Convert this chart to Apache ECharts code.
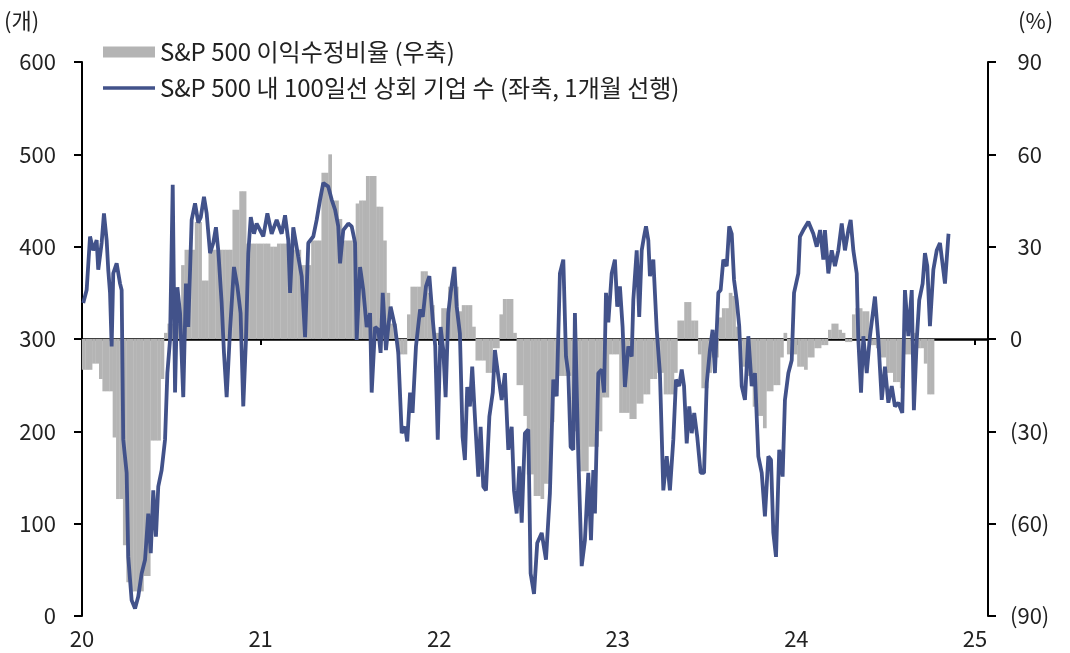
<!DOCTYPE html>
<html>
<head>
<meta charset="utf-8">
<script src="https://cdn.jsdelivr.net/npm/echarts@6/dist/echarts.min.js"></script>
<style>
  html, body { margin: 0; padding: 0; background: #fff; }
  #chart { width: 1070px; height: 653px; }
</style>
</head>
<body>
<div id="chart"></div>
<script>
// x축: 연도(20 = 2020), 소수는 연중 위치
const yearTicks = [20, 21, 22, 23, 24, 25];

// S&P 500 이익수정비율 (우축, %), 주간, 2020년 첫 주부터
const revisionRatio = [
  -10, -10, -10, -8, -8, -13, -17, -17, -17, -32,
  -52, -52, -67, -79, -82, -82, -82, -82, -77, -77,
  -33, -33, -33, -13, 2, 5, 5, 5, 5, 24,
  29, 29, 29, 38, 38, 19, 19, 29, 29, 29,
  29, 29, 29, 29, 42, 42, 48, 48, 31, 31,
  31, 31, 31, 31, 31, 30, 30, 31, 31, 31,
  31, 31, 29, 29, 24, 24, 24, 32, 32, 32,
  54, 54, 60, 45, 45, 39, 32, 32, 32, 32,
  44, 45, 45, 53, 53, 53, 43, 43, 32, 15,
  5, 5, -5, -5, -5, 8, 17, 17, 17, 22,
  22, 15, 11, 2, 2, 10, 10, 17, 17, 17,
  9, 11, 11, 11, 4, -7, -7, -7, -11, -11,
  -3, -3, 8, 13, 13, 13, 2, -15, -15, -25,
  -44, -44, -51, -51, -52, -47, -47, -27, -17, -12,
  -12, -12, -12, -30, -30, -43, -43, -43, -35, -35,
  -35, -30, -19, -19, -5, -5, -5, -24, -24, -24,
  -26, -26, -21, -21, -18, -18, -13, -13, -11, -11,
  -18, -18, -18, -11, 6, 6, 12, 12, 6, 6,
  -5, -16, -16, -11, -6, -6, 7, 10, 10, 15,
  14, 4, -9, -9, -12, -12, -22, -25, -25, -29,
  -17, -17, -15, -15, -6, 2, -5, -5, -5, -9,
  -9, -10, -6, -6, -3, -3, -2, -2, 3, 5,
  5, 3, 2, -1, -1, 8, 10, 10, 9, 9,
  -2, -2, -3, -6, -6, -11, -11, -14, -14, -16,
  -5, -5, -5, 2, -3, -3, -8, -18, -18
];
const weeksPerYear = 52.18;

// S&P 500 내 100일선 상회 기업 수 (좌축, 개), 1개월 선행
const lineYears = [
  20.007, 20.026, 20.045, 20.063, 20.082, 20.091, 20.110, 20.123, 20.138, 20.147,
  20.157, 20.166, 20.175, 20.194, 20.213, 20.222, 20.231, 20.250, 20.259, 20.278,
  20.297, 20.315, 20.334, 20.353, 20.371, 20.385, 20.399, 20.414, 20.427, 20.446,
  20.465, 20.478, 20.493, 20.508, 20.521, 20.534, 20.549, 20.567, 20.582, 20.595,
  20.614, 20.633, 20.651, 20.665, 20.683, 20.698, 20.717, 20.735, 20.750, 20.763,
  20.782, 20.795, 20.810, 20.829, 20.851, 20.870, 20.888, 20.903, 20.918, 20.931,
  20.945, 20.963, 20.978, 20.997, 21.015, 21.038, 21.062, 21.090, 21.118, 21.137,
  21.155, 21.165, 21.183, 21.211, 21.230, 21.249, 21.267, 21.295, 21.314, 21.333,
  21.351, 21.379, 21.398, 21.417, 21.435, 21.445, 21.463, 21.491, 21.510, 21.529,
  21.538, 21.557, 21.575, 21.594, 21.613, 21.622, 21.641, 21.659, 21.672, 21.684,
  21.702, 21.715, 21.728, 21.753, 21.771, 21.790, 21.809, 21.821, 21.837, 21.851,
  21.870, 21.893, 21.908, 21.926, 21.945, 21.964, 21.978, 21.992, 22.008, 22.023,
  22.036, 22.051, 22.064, 22.085, 22.098, 22.116, 22.131, 22.144, 22.157, 22.172,
  22.185, 22.200, 22.219, 22.232, 22.247, 22.262, 22.281, 22.300, 22.312, 22.331,
  22.350, 22.368, 22.387, 22.406, 22.419, 22.434, 22.449, 22.462, 22.480, 22.499,
  22.512, 22.531, 22.549, 22.574, 22.598, 22.620, 22.639, 22.658, 22.676, 22.695,
  22.710, 22.723, 22.736, 22.751, 22.760, 22.779, 22.798, 22.816, 22.835, 22.850,
  22.863, 22.872, 22.891, 22.910, 22.923, 22.934, 22.947, 22.966, 22.984, 22.997,
  23.012, 23.027, 23.040, 23.059, 23.078, 23.087, 23.106, 23.120, 23.134, 23.147,
  23.158, 23.171, 23.180, 23.199, 23.218, 23.236, 23.255, 23.274, 23.292, 23.311,
  23.326, 23.344, 23.358, 23.371, 23.386, 23.400, 23.414, 23.428, 23.445, 23.464,
  23.483, 23.498, 23.516, 23.531, 23.544, 23.563, 23.576, 23.591, 23.610, 23.624,
  23.638, 23.651, 23.666, 23.680, 23.694, 23.712, 23.731, 23.750, 23.768, 23.787,
  23.806, 23.824, 23.843, 23.858, 23.871, 23.886, 23.904, 23.923, 23.936, 23.955,
  23.974, 23.987, 24.011, 24.020, 24.039, 24.067, 24.095, 24.114, 24.133, 24.151,
  24.160, 24.179, 24.198, 24.216, 24.235, 24.254, 24.272, 24.291, 24.304, 24.319,
  24.338, 24.347, 24.362, 24.375, 24.394, 24.412, 24.440, 24.459, 24.478, 24.496,
  24.515, 24.534, 24.552, 24.571, 24.593, 24.608, 24.627, 24.646, 24.658, 24.674,
  24.688, 24.707, 24.720, 24.733, 24.748, 24.767, 24.786, 24.804, 24.820, 24.832,
  24.852
];
const aboveMA100 = [
  339, 353, 411, 396, 407, 375, 404, 436, 407, 375,
  350, 292, 371, 382, 360, 353, 191, 155, 64, 17,
  8, 21, 46, 61, 111, 68, 136, 86, 140, 158,
  191, 263, 299, 467, 242, 356, 328, 237, 360, 313,
  429, 447, 426, 432, 454, 436, 393, 404, 421, 396,
  339, 285, 237, 310, 378, 357, 328, 227, 299, 393,
  432, 414, 425, 418, 411, 436, 414, 429, 414, 434,
  407, 350, 421, 389, 368, 302, 404, 411, 429, 451,
  469, 465, 451, 440, 422, 382, 418, 425, 422, 404,
  299, 378, 353, 313, 328, 242, 313, 310, 285, 350,
  288, 313, 335, 313, 285, 198, 205, 189, 242, 220,
  292, 332, 324, 357, 368, 321, 292, 191, 313, 288,
  237, 328, 350, 378, 335, 306, 194, 169, 248, 227,
  270, 216, 151, 205, 140, 136, 216, 242, 288, 260,
  234, 263, 180, 205, 136, 111, 162, 101, 198, 202,
  46, 24, 79, 90, 61, 133, 256, 238, 371, 386,
  281, 263, 183, 180, 328, 173, 54, 82, 155, 82,
  158, 111, 263, 267, 242, 350, 318, 371, 386, 335,
  357, 313, 248, 292, 281, 342, 396, 324, 396, 411,
  422, 407, 368, 386, 310, 263, 136, 173, 136, 191,
  256, 249, 267, 249, 187, 227, 198, 220, 194, 155,
  155, 252, 288, 310, 263, 350, 353, 386, 379, 422,
  414, 364, 342, 314, 249, 234, 303, 249, 263, 173,
  155, 108, 173, 169, 90, 64, 180, 151, 234, 263,
  277, 350, 371, 411, 418, 427, 414, 400, 418, 386,
  418, 371, 396, 379, 396, 425, 396, 418, 429, 396,
  371, 299, 242, 303, 263, 303, 346, 299, 234, 270,
  231, 249, 227, 231, 220, 353, 303, 353, 223, 299,
  342, 360, 393, 379, 314, 375, 396, 404, 379, 360,
  414
];

const barName = 'S&P 500 이익수정비율 (우축)';
const lineName = 'S&P 500 내 100일선 상회 기업 수 (좌축, 1개월 선행)';

const font = "'Noto Sans CJK KR', sans-serif";
const txt = '#222';
const axisFont = 22;
const lineColor = '#42528a';

const barData = revisionRatio.map((v, i) => [yearTicks[0] + (i + 0.5) / weeksPerYear, v]);
const lineData = lineYears.map((x, i) => [x, aboveMA100[i]]);

const xMin = yearTicks[0];
const xMax = 25.073;

const chart = echarts.init(document.getElementById('chart'), null, { renderer: 'canvas' });
chart.setOption({
  animation: false,
  backgroundColor: '#fff',
  textStyle: { fontFamily: font },
  grid: { left: 82, right: 82, top: 62, bottom: 37 },
  legend: {
    orient: 'vertical',
    left: 98,
    top: 35,
    itemWidth: 52,
    itemHeight: 11,
    itemGap: 12,
    textStyle: { fontSize: 24, color: txt, fontFamily: font },
    data: [
      { name: barName, icon: 'rect' },
      { name: lineName, icon: 'path://M0,0 H52 V3.6 H0 Z' }
    ]
  },
  graphic: [
    { type: 'text', left: 4, top: 10, style: { text: '(개)', fontSize: axisFont, fill: txt, fontFamily: font } },
    { type: 'text', left: 1018, top: 10, style: { text: '(%)', fontSize: axisFont, fill: txt, fontFamily: font } }
  ],
  xAxis: [
    {
      type: 'value', min: xMin, max: xMax, interval: 1, position: 'bottom',
      axisLine: { show: false }, axisTick: { show: false }, splitLine: { show: false },
      axisLabel: {
        margin: 12, fontSize: axisFont, color: txt, fontFamily: font,
        formatter: v => (yearTicks.indexOf(v) >= 0 ? String(v) : '')
      }
    },
    {
      type: 'value', min: xMin, max: xMax, interval: 1, position: 'bottom',
      axisLine: { show: true, onZero: true, onZeroAxisIndex: 1, lineStyle: { color: '#000', width: 2.5 } },
      axisTick: { show: true, length: 6, lineStyle: { color: '#000', width: 2 } },
      axisLabel: { show: false }, splitLine: { show: false }
    }
  ],
  yAxis: [
    {
      type: 'value', min: 0, max: 600, interval: 100, position: 'left',
      axisLine: { show: true, lineStyle: { color: '#000', width: 2 } },
      axisTick: { show: true, length: 8, lineStyle: { color: '#000', width: 2 } },
      axisLabel: { margin: 26, fontSize: axisFont, color: txt, fontFamily: font },
      splitLine: { show: false }
    },
    {
      type: 'value', min: -90, max: 90, interval: 30, position: 'right',
      axisLine: { show: true, lineStyle: { color: '#000', width: 2 } },
      axisTick: { show: true, length: 8, lineStyle: { color: '#000', width: 2 } },
      axisLabel: {
        margin: 22, fontSize: axisFont, color: txt, fontFamily: font, align: 'left',
        // 양수는 괄호 자리만큼 띄워서 정렬
        formatter: v => (v < 0 ? '(' + (-v) + ')' : v > 0 ? '{h|(}' + v : '0'),
        rich: { h: { fontSize: axisFont, fontFamily: font, color: 'rgba(0,0,0,0)' } }
      },
      splitLine: { show: false }
    }
  ],
  series: [
    {
      name: barName, type: 'bar', xAxisIndex: 0, yAxisIndex: 1,
      data: barData, barWidth: 3.7,
      itemStyle: { color: '#b4b4b4' },
      z: 1
    },
    {
      name: lineName, type: 'line', xAxisIndex: 0, yAxisIndex: 0,
      data: lineData, showSymbol: false, symbol: 'none',
      lineStyle: { color: lineColor, width: 3.8 },
      itemStyle: { color: lineColor },
      z: 3
    }
  ]
});
</script>
</body>
</html>
